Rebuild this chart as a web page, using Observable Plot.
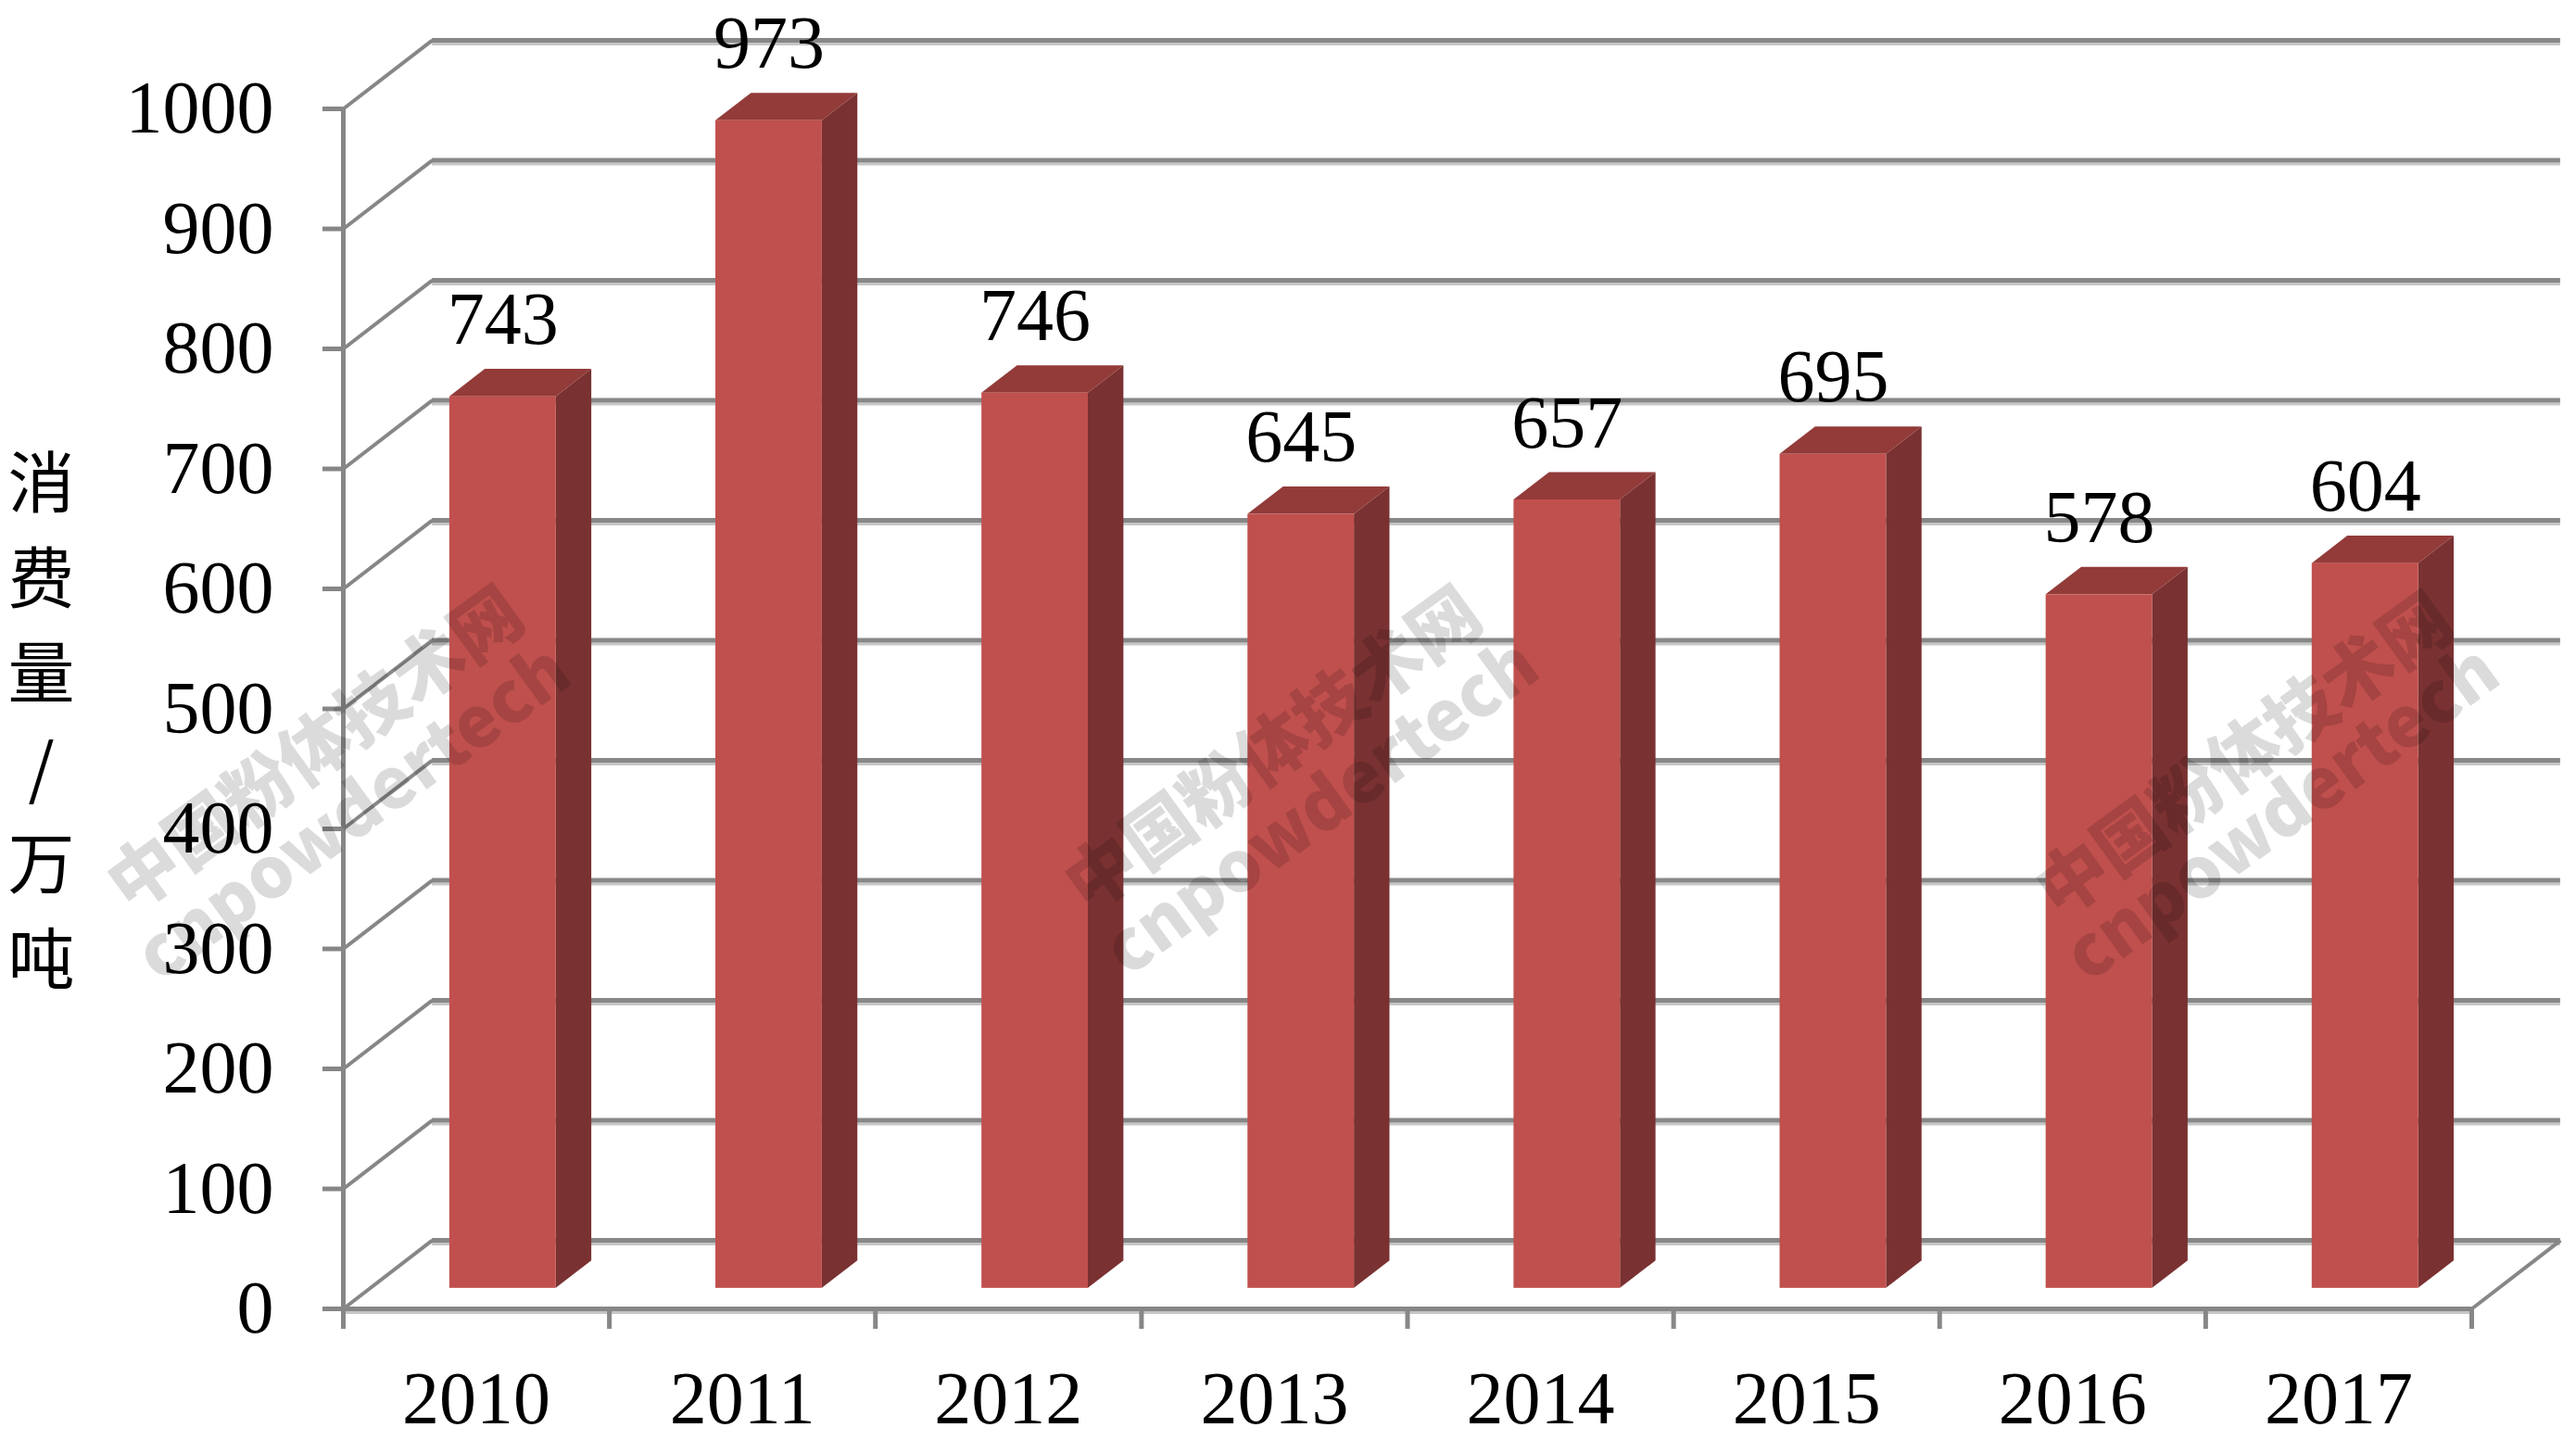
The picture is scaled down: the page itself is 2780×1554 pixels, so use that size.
<!DOCTYPE html>
<html>
<head>
<meta charset="utf-8">
<script src="https://cdn.jsdelivr.net/npm/d3@7"></script>
<script src="https://cdn.jsdelivr.net/npm/@observablehq/plot@0.6"></script>
<style>
  html, body { margin: 0; padding: 0; background: #ffffff; }
  #chart svg { display: block; }
</style>
</head>
<body>
<div id="chart"></div>
<script>
// ---- data ----
const years = ["2010", "2011", "2012", "2013", "2014", "2015", "2016", "2017"];
const values = [743, 973, 746, 645, 657, 695, 578, 604];
const yTicks = [0, 100, 200, 300, 400, 500, 600, 700, 800, 900, 1000];
const yTitleChars = ["消", "费", "量", "/", "万", "吨"];
const watermarkLines = ["中国粉体技术网", "cnpowdertech"];

// ---- 3D geometry (in data units) ----
const DX = 0.334;   // floor depth in category units
const DY = 57.1;    // floor depth in value units
const BW = 0.4;     // bar width (fraction of band)
const F = 0.3, B = 0.7; // bar front/back depth fractions

const bars = years.map((yr, i) => ({i, year: yr, v: values[i]}));
const sidePts = bars.flatMap(d => [
  {i: d.i, x: d.i + 0.5 + BW / 2 + F * DX, y1: F * DY, y2: d.v + F * DY},
  {i: d.i, x: d.i + 0.5 + BW / 2 + B * DX, y1: B * DY, y2: d.v + B * DY}
]);
const topPts = bars.flatMap(d => [
  {i: d.i, y: d.v + F * DY, x1: d.i + 0.5 - BW / 2 + F * DX, x2: d.i + 0.5 + BW / 2 + F * DX},
  {i: d.i, y: d.v + B * DY, x1: d.i + 0.5 - BW / 2 + B * DX, x2: d.i + 0.5 + BW / 2 + B * DX}
]);

const n = years.length;
const gridDark = "#878787";
const gridLight = "#c6c6c6";
const serif = "'Liberation Serif', 'Times New Roman', serif";
const cjk = "'Noto Sans CJK SC', sans-serif";

const wmGroups = [
  {x: -0.10, y: 465, x2: 0.04, y2: 412},
  {x: 3.50, y: 465, x2: 3.68, y2: 417},
  {x: 7.15, y: 460, x2: 7.29, y2: 412}
];
const wm = wmGroups.flatMap(g => [
  {x: g.x, y: g.y, t: watermarkLines[0]},
  {x: g.x2, y: g.y2, t: watermarkLines[1]}
]);

const plot = Plot.plot({
  width: 2780,
  height: 1554,
  marginLeft: 370,
  marginRight: 113,
  marginTop: 117,
  marginBottom: 142,
  style: {fontFamily: serif, fontSize: "80px", background: "#ffffff", color: "#000"},
  x: {type: "linear", domain: [0, n], axis: null},
  y: {type: "linear", domain: [0, 1000], axis: null},
  marks: [
    // back wall gridlines (shadow + line)
    Plot.ruleY(yTicks, {y: d => d + DY, x1: DX, x2: n + DX, stroke: gridLight, strokeWidth: 3, dy: 4}),
    Plot.ruleY(yTicks, {y: d => d + DY, x1: DX, x2: n + DX, stroke: gridDark, strokeWidth: 5}),
    // side wall diagonals
    Plot.link(yTicks, {x1: 0, y1: d => d, x2: DX, y2: d => d + DY, stroke: gridDark, strokeWidth: 4}),
    // floor front edge and right diagonal
    Plot.ruleY([0], {x1: 0, x2: n, stroke: gridLight, strokeWidth: 3, dy: 4}),
    Plot.ruleY([0], {x1: 0, x2: n, stroke: gridDark, strokeWidth: 5}),
    Plot.link([0], {x1: n, y1: 0, x2: n + DX, y2: DY, stroke: gridDark, strokeWidth: 4}),
    // y axis line
    Plot.ruleX([0], {y1: 0, y2: 1000, stroke: gridDark, strokeWidth: 5}),
    // y ticks and labels
    Plot.axisY({ticks: yTicks, tickSize: 22, tickPadding: 53, stroke: gridDark, strokeWidth: 5,
      tickFormat: d => String(d), fill: "#000", fontSize: 80, fontFamily: serif}),
    // x ticks (category boundaries)
    Plot.axisX({ticks: d3.range(n + 1), tickSize: 22, tickFormat: () => "", stroke: gridDark, strokeWidth: 5}),
    // x labels
    Plot.text(bars, {x: d => d.i + 0.5, y: 0, text: "year", dy: 98, lineAnchor: "middle",
      fontSize: 80, fontFamily: serif, fill: "#000"}),
    // bars: side, top, front
    Plot.areaY(sidePts, {x: "x", y1: "y1", y2: "y2", z: "i", fill: "#7a3131"}),
    Plot.areaX(topPts, {y: "y", x1: "x1", x2: "x2", z: "i", fill: "#923b39"}),
    Plot.rect(bars, {x1: d => d.i + 0.5 - BW / 2 + F * DX, x2: d => d.i + 0.5 + BW / 2 + F * DX,
      y1: F * DY, y2: d => d.v + F * DY, fill: "#c0504d"}),
    // value labels
    Plot.text(bars, {x: d => d.i + 0.5 + F * DX, y: d => d.v + B * DY, text: d => String(d.v),
      dy: -53, lineAnchor: "middle", fontSize: 80, fontFamily: serif, fill: "#000"}),
    // watermark
    Plot.text(wm, {x: "x", y: "y", text: "t", rotate: -36, fontSize: 76, fontWeight: 900,
      fontFamily: cjk, fill: "#000", fillOpacity: 0.14}),
    // y axis title (stacked characters)
    Plot.text([yTitleChars.join("\n")], {frameAnchor: "left", dx: -326, dy: 6, lineHeight: 1.43,
      lineAnchor: "middle", textAnchor: "middle", fontSize: 72, fontFamily: cjk, fill: "#000"})
  ]
});

document.getElementById("chart").append(plot);
</script>
</body>
</html>
